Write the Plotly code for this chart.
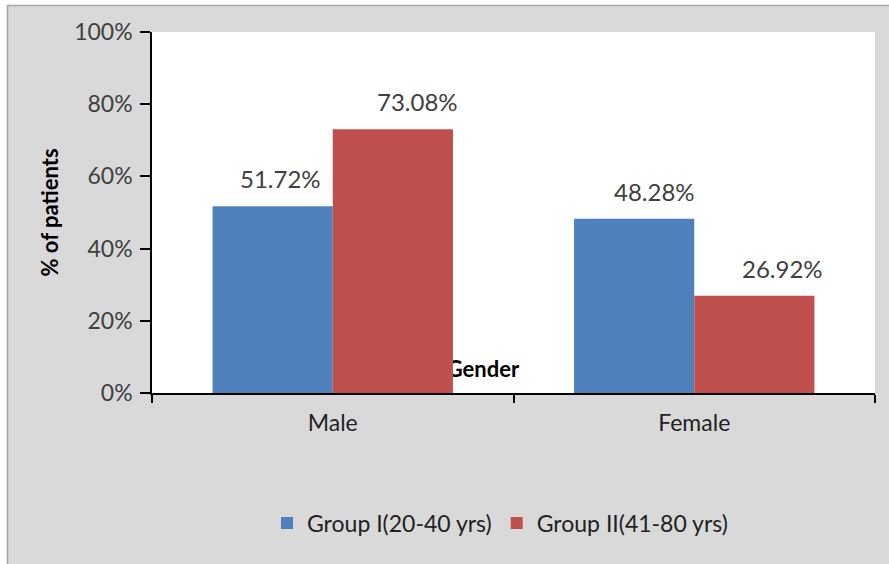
import plotly.graph_objects as go

categories = ["Male", "Female"]
group1_name = "Group I(20-40 yrs)"
group2_name = "Group II(41-80 yrs)"
group1_values = [51.72, 48.28]
group2_values = [73.08, 26.92]
y_ticks = [0, 20, 40, 60, 80, 100]
y_tick_labels = ["0%", "20%", "40%", "60%", "80%", "100%"]
x_title = "Gender"
y_title = "% of patients"

BLUE = "#4F81BD"
RED = "#C0504D"
BG = "#D9D9D9"
TXT = "#404040"
FONT = "Lato"

W, H = 889, 564
L, R, T, B = 152, 14, 32, 171
PW, PH = W - L - R, H - T - B


def px_x(p):
    return (p - L) / PW


def px_y(p):
    return (H - B - p) / PH


fig = go.Figure()
fig.add_bar(x=categories, y=group1_values, name=group1_name, marker_color=BLUE,
            marker_line_width=0)
fig.add_bar(x=categories, y=group2_values, name=group2_name, marker_color=RED,
            marker_line_width=0)

# data labels (style offsets only)
label_dx = [[-60 + 8, -60 + 20], [60 + 25, 60 + 28]]
for si, vals in enumerate([group1_values, group2_values]):
    for ci, (c, v) in enumerate(zip(categories, vals)):
        fig.add_annotation(x=c, y=v, text=f"{v:.2f}%", showarrow=False,
                           xanchor="center", yanchor="bottom",
                           xshift=label_dx[si][ci], yshift=11,
                           font=dict(family=FONT, size=24, color=TXT))

# y axis title
fig.add_annotation(xref="paper", yref="paper", x=px_x(49), y=0.5,
                   text=f"<b>{y_title}</b>", textangle=-90, showarrow=False,
                   xanchor="center", yanchor="middle",
                   font=dict(family=FONT, size=22, color="#000000"))

shapes = [
    # white outer margins and border of the chart frame
    dict(type="rect", xref="paper", yref="paper", x0=px_x(-20), x1=px_x(W + 20),
         y0=px_y(5), y1=px_y(-20), fillcolor="white", line_width=0, layer="below"),
    dict(type="rect", xref="paper", yref="paper", x0=px_x(-20), x1=px_x(7),
         y0=px_y(H + 20), y1=px_y(-20), fillcolor="white", line_width=0, layer="below"),
    dict(type="line", xref="paper", yref="paper", x0=px_x(7), x1=px_x(W + 20),
         y0=px_y(5.5), y1=px_y(5.5), line=dict(color="#A6A6A6", width=1.5), layer="below"),
    dict(type="line", xref="paper", yref="paper", x0=px_x(7.5), x1=px_x(7.5),
         y0=px_y(5), y1=px_y(H + 20), line=dict(color="#A6A6A6", width=1.5), layer="below"),
    # x-axis title drawn beneath the bars
    dict(type="rect", xref="paper", yref="paper", x0=px_x(433), x1=px_x(533),
         y0=px_y(381), y1=px_y(355), line_width=0, fillcolor="rgba(0,0,0,0)",
         layer="below",
         label=dict(text=x_title, textposition="middle center",
                    font=dict(family=FONT, size=22, color="#000000", weight="bold"))),
]

fig.update_layout(
    width=W, height=H,
    margin=dict(l=L, r=R, t=T, b=B, autoexpand=False),
    paper_bgcolor=BG, plot_bgcolor="white",
    barmode="group", bargap=0.335, bargroupgap=0,
    shapes=shapes,
    showlegend=True,
    legend=dict(orientation="h", x=px_x(500), xanchor="center", y=px_y(523),
                yanchor="middle", bgcolor="rgba(0,0,0,0)",
                font=dict(family=FONT, size=23, color="#222222"),
                itemwidth=30, traceorder="normal"),
    font=dict(family=FONT, size=23, color=TXT),
)

fig.update_xaxes(showline=True, linecolor="#000000", linewidth=1.5,
                 ticks="outside", ticklen=8, tickwidth=1.5, tickcolor="#000000",
                 tickson="boundaries", showgrid=False,
                 tickfont=dict(family=FONT, size=23, color="#222222"),
                 ticklabelstandoff=9)
fig.update_yaxes(range=[0, 100], tickvals=y_ticks, ticktext=y_tick_labels,
                 showline=True, linecolor="#000000", linewidth=1.5,
                 ticks="outside", ticklen=10, tickwidth=1.5, tickcolor="#000000",
                 showgrid=False, zeroline=False,
                 tickfont=dict(family=FONT, size=23, color=TXT),
                 ticklabelstandoff=3)

fig.write_html("out.html", config={"displayModeBar": False},
               post_script="document.body.style.margin='0';document.body.style.padding='0';")
